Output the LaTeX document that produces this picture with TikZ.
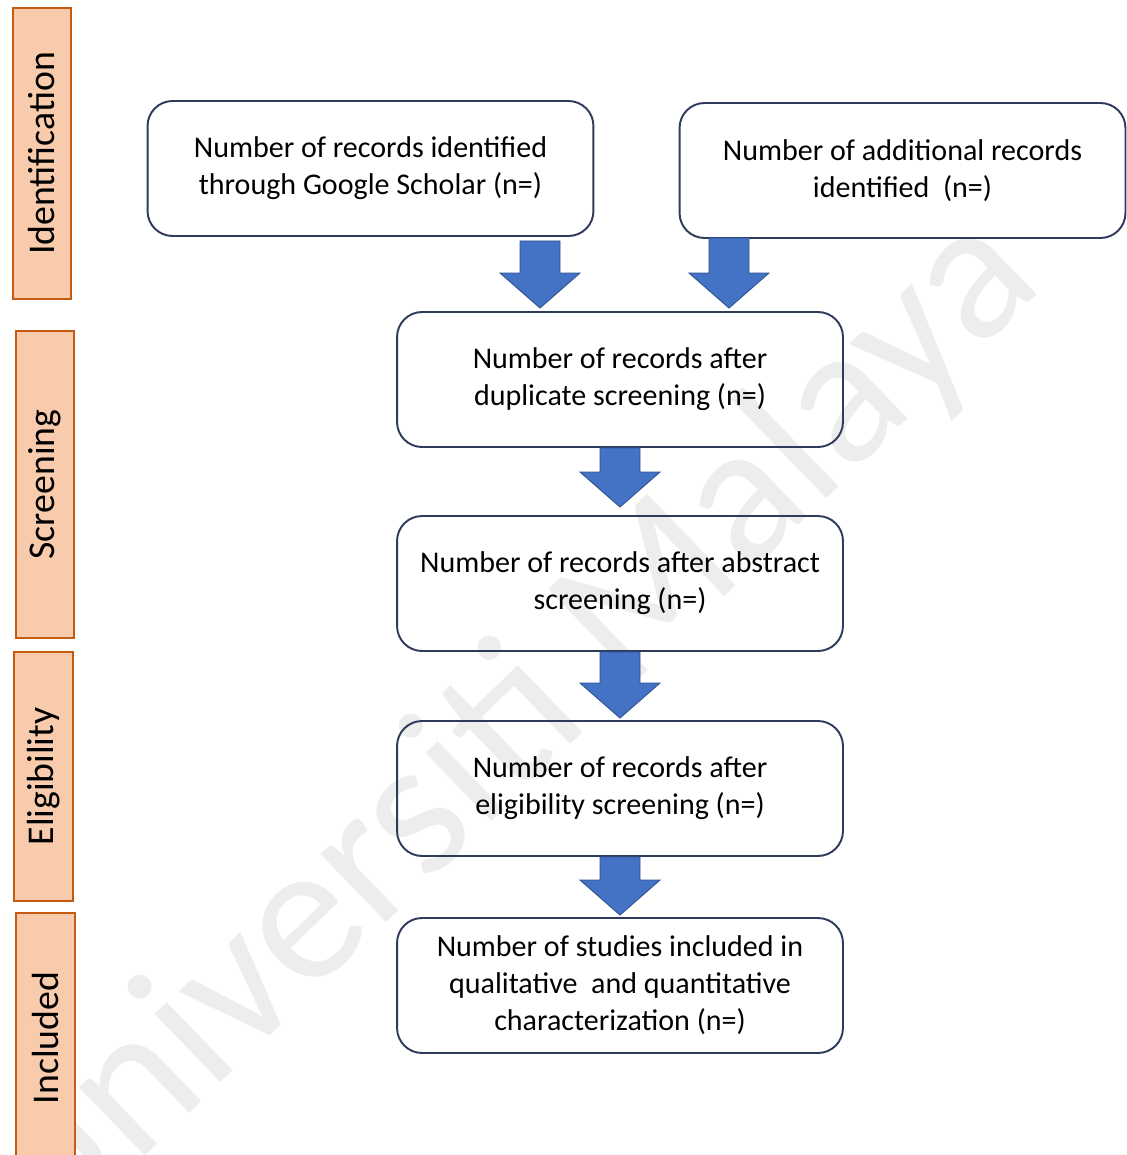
\documentclass[tikz,border=0pt]{standalone}
\usepackage{fontspec}
\setmainfont{Carlito}
\usetikzlibrary{calc}
\definecolor{boxline}{HTML}{2F3B5C}
\definecolor{arrowfill}{HTML}{4472C4}
\definecolor{arrowline}{HTML}{2F528F}
\definecolor{stagefill}{HTML}{F8CBAD}
\definecolor{stageline}{HTML}{C55A11}
\newcommand\flowarrow[2]{\path (#1) coordinate (fa1) (#2) coordinate (fa2);
  \draw[blockarrow] ($(fa1)+(-20,0)$) -- ($(fa1)+(20,0)$) -- ($(fa2)+(20,-35)$)
    -- ($(fa2)+(40,-35)$) -- (fa2) -- ($(fa2)+(-40,-35)$) -- ($(fa2)+(-20,-35)$) -- cycle;}

\begin{document}
\begin{tikzpicture}[x=0.02cm,y=-0.02cm,
  recbox/.style={draw=boxline,line width=1.1pt,rounded corners=0.5cm,align=center,
    minimum width=8.92cm,minimum height=2.7cm,font=\fontsize{17.1}{21}\selectfont},
  stage/.style={draw=stageline,fill=stagefill,line width=0.9pt,rotate=90,
    minimum height=1.17cm,font=\fontsize{21.5}{24}\selectfont},
  blockarrow/.style={fill=arrowfill,draw=arrowline,line width=0.5pt}]
\useasboundingbox (0,0) rectangle (1126,1155);
% watermark
\node[rotate=44,text=black!7,font=\fontsize{113}{113}\selectfont] (wm) at (508,732) {Universiti Malaya};
% stages
\node[stage,minimum width=5.82cm] (id) at (42,153.5) {Identification};
\node[stage,minimum width=6.14cm] (sc) at (45,484.5) {Screening};
\node[stage,minimum width=4.98cm] (el) at (43.5,776.5) {Eligibility};
\node[stage,minimum width=5cm] (in) at (45.5,1038) {Included};
% boxes
\node[recbox] (b1) at (370.5,168.5) {Number of records identified\\through Google Scholar (n=)};
\node[recbox] (b2) at (902.5,170.5) {Number of additional records\\identified~~(n=)};
\node[recbox] (b3) at (620,379.5) {Number of records after\\duplicate screening (n=)};
\node[recbox] (b4) at (620,583.5) {Number of records after abstract\\screening (n=)};
\node[recbox] (b5) at (620,788.5) {Number of records after\\eligibility screening (n=)};
\node[recbox] (b6) at (620,985.5) {Number of studies included in\\qualitative~ and quantitative\\characterization (n=)};
% arrows
\flowarrow{$(b1.south)+(169.5,4)$}{$(b3.north)+(-80,-3)$}
\flowarrow{$(b2.south)+(-173.5,-1)$}{$(b3.north)+(109,-3)$}
\flowarrow{b3.south}{$(b4.north)+(0,-8)$}
\flowarrow{b4.south}{$(b5.north)+(0,-2)$}
\flowarrow{b5.south}{$(b6.north)+(0,-2)$}
\end{tikzpicture}
\end{document}
